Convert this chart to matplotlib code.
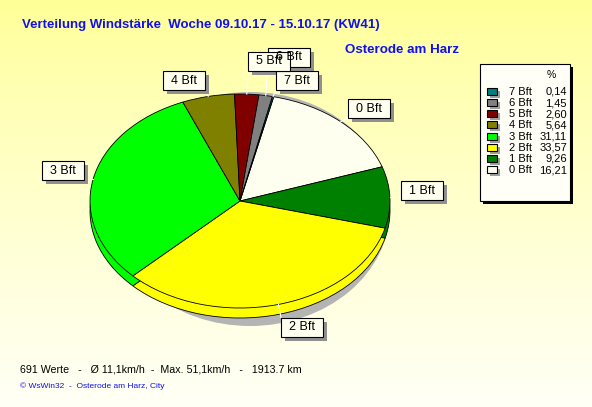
import numpy as np
import matplotlib
matplotlib.use("Agg")
import matplotlib.pyplot as plt
from matplotlib.patches import Rectangle, Ellipse

plt.rcParams['font.family'] = ['Liberation Sans', 'DejaVu Sans']

# data
classes = ["0 Bft", "1 Bft", "2 Bft", "3 Bft", "4 Bft", "5 Bft", "6 Bft", "7 Bft"]
percent = [16.21, 9.26, 33.57, 31.11, 5.64, 2.60, 1.45, 0.14]
colors = ["#FFFFF0", "#008000", "#FFFF00", "#00FF00", "#808000", "#800000", "#808080", "#008080"]
title = "Verteilung Windstärke  Woche 09.10.17 - 15.10.17 (KW41)"
station = "Osterode am Harz"
footer = "691 Werte   -   Ø 11,1km/h  -  Max. 51,1km/h   -   1913.7 km"
credit = "© WsWin32  -  Osterode am Harz, City"

# label box centres in pixels
label_pos = {"0 Bft": (369, 108), "1 Bft": (422, 190), "2 Bft": (302, 327), "3 Bft": (63, 170),
             "4 Bft": (184, 80), "5 Bft": (269, 61), "6 Bft": (289, 57), "7 Bft": (297, 80)}

W, H = 592, 407
fig = plt.figure(figsize=(W / 100, H / 100), dpi=100)

# background
bg = fig.add_axes([0, 0, 1, 1], zorder=0)
grad = np.linspace(0, 1, 256).reshape(-1, 1)
top = np.array([255, 255, 150]) / 255
bot = np.array([255, 255, 246]) / 255
img = top + (bot - top) * grad[..., None] ** 0.8
bg.imshow(img, extent=[0, W, H, 0], aspect='auto')
bg.set_xlim(0, W)
bg.set_ylim(H, 0)
bg.axis('off')

# pie: ellipse rx=150, ry=107, centre (240, 201), depth 10px
cx, cy, rx, ry, depth = 240, 201, 150, 107, 10
px0, px1, py0, py1 = 90, 390, 88, 336
pie_ax = fig.add_axes([px0 / W, (H - py1) / H, (px1 - px0) / W, (py1 - py0) / H], zorder=1)
pie_ax.patch.set_alpha(0)

# shadow
bg.add_patch(Ellipse((250, 209), 280, 234, color="#B4B4B4", lw=0))

kw = dict(colors=colors, startangle=77, counterclock=False,
          wedgeprops=dict(edgecolor="black", linewidth=0.6))
pie_ax.pie(percent, center=(0, -depth / ry), **kw)
wedges, _ = pie_ax.pie(percent, center=(0, 0), **kw)
pie_ax.set_aspect('auto')
pie_ax.set_xlim(-1, 1)
pie_ax.set_ylim(-(py1 - cy) / ry, (cy - py0) / ry)
pie_ax.axis('off')

# overlay
ov = fig.add_axes([0, 0, 1, 1], zorder=2)
ov.patch.set_alpha(0)
ov.set_xlim(0, W)
ov.set_ylim(H, 0)
ov.axis('off')

# leader lines + labels
bw, bh = 42, 19
order = ["6 Bft", "0 Bft", "1 Bft", "2 Bft", "3 Bft", "4 Bft", "7 Bft", "5 Bft"]
for name in order:
    i = classes.index(name)
    w = wedges[i]
    th = np.deg2rad((w.theta1 + w.theta2) / 2)
    ex, ey = cx + rx * np.cos(th), cy - ry * np.sin(th)
    lx, ly = label_pos[name]
    tx = min(max(ex, lx - bw / 2), lx + bw / 2)
    ty = min(max(ey, ly - bh / 2), ly + bh / 2)
    ov.plot([ex, tx], [ey, ty], color="white", lw=0.8, zorder=1)
for name in order:
    lx, ly = label_pos[name]
    ov.add_patch(Rectangle((lx - bw / 2 + 4, ly - bh / 2 + 4), bw, bh, color="#909090", lw=0, zorder=2))
    ov.add_patch(Rectangle((lx - bw / 2, ly - bh / 2), bw, bh, facecolor="#FFFFF0",
                           edgecolor="black", lw=0.8, zorder=3))
    ov.text(lx, ly + 0.5, name, ha="center", va="center", fontsize=9, zorder=4)

# titles
ov.text(22, 25, title, color="#1010F0", fontsize=9.5, fontweight="bold", va="center")
ov.text(345, 50, station, color="#1010F0", fontsize=9.6, fontweight="bold", va="center")

# legend
lx0, ly0, lw_, lh_ = 480, 64, 90, 137
ov.add_patch(Rectangle((lx0 + 3, ly0 + 3), lw_, lh_, color="black", lw=0))
ov.add_patch(Rectangle((lx0, ly0), lw_, lh_, facecolor="#FFFFF8", edgecolor="black", lw=0.8))
ov.text(551, 75, "%", fontsize=7.5, ha="center", va="center")
for k, i in enumerate(range(len(classes) - 1, -1, -1)):
    y = 92 + k * 11.15
    ov.add_patch(Rectangle((490, y - 1), 10, 7, color="#A0A0A0", lw=0))
    ov.add_patch(Rectangle((487, y - 4), 10, 7, facecolor=colors[i], edgecolor="black", lw=0.8))
    ov.text(509, y, classes[i], fontsize=8, va="center")
    ov.text(567, y, f"{percent[i]:.2f}".replace(".", ","), fontsize=8, va="center", ha="right")

# footer
ov.text(20, 369, footer, fontsize=7.7, va="center")
ov.text(20, 386, credit, fontsize=6, color="#1010F0", va="center")

fig.savefig("out.png", dpi=100)
